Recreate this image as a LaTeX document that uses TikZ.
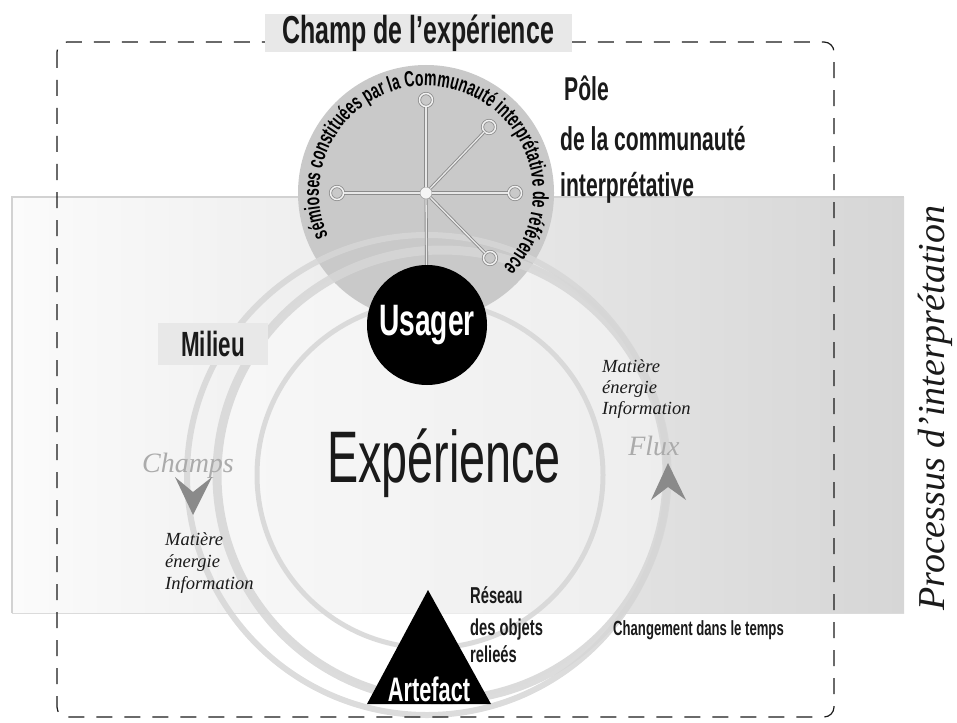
\documentclass[tikz,border=0pt]{standalone}
\usepackage{fontspec}
\newfontfamily\cnd[FakeStretch=0.64]{Liberation Sans}
\newfontfamily\ital{Liberation Serif}
\usetikzlibrary{decorations.text}
\definecolor{ringc}{HTML}{D6D6D6}
\definecolor{diskc}{HTML}{C9C9C9}
\definecolor{bandl}{HTML}{FBFBFB}
\definecolor{bandr}{HTML}{D6D6D6}
\definecolor{bandedge}{HTML}{D2D2D2}
\definecolor{labelbg}{HTML}{E8E8E8}
\definecolor{arrowc}{HTML}{8A8A8A}
\definecolor{softgray}{HTML}{ABABAB}
\definecolor{netc}{HTML}{8C8C8C}
\definecolor{inkc}{HTML}{1A1A1A}
\tikzset{
  ringline/.style={draw=ringc, opacity=0.85},
  netline/.style={draw=netc, line width=0.9pt, double=white!82!gray, double distance=1.3pt},
  smallring/.style={circle, draw=netc, line width=0.8pt, double=white!90!gray, double distance=1.5pt, fill=diskc, minimum size=13pt, inner sep=0pt},
  hubdot/.style={circle, draw=netc!80, line width=0.6pt, fill=white!92!gray, minimum size=12pt, inner sep=0pt},
  dashbox/.style={draw=inkc, line width=1.2pt, dash pattern=on 16pt off 12pt, rounded corners=10pt},
  condlbl/.style={anchor=base west, text=inkc, inner sep=0pt},
  italsmall/.style={anchor=base west, inner sep=0pt, text=inkc, font=\ital\itshape\fontsize{18.5}{18.5}\selectfont},
  italgray/.style={anchor=base, inner sep=0pt, text=softgray, font=\ital\itshape\fontsize{28}{28}\selectfont},
  chevron/.style={fill=arrowc}
}
\begin{document}
\begin{tikzpicture}[x=1pt,y=-1pt]
\useasboundingbox (0,0) rectangle (957,722);

% band
\shade[left color=bandl, right color=bandr] (12,197) rectangle (904,613);
\draw[bandedge, line width=1.6pt] (12,613) -- (12,197) -- (904,197);
\draw[bandedge!80, line width=1pt] (12,613) -- (904,613);

% whitish interior of circles
\fill[white, opacity=0.45] (442,475) circle[radius=225];

% top disk
\node[circle, fill=diskc, minimum size=256pt, inner sep=0pt] (disk) at (426,193) {};

% rings
\draw[ringline, line width=6pt] (427,475) circle[radius=240];
\draw[ringline, line width=9pt] (442,475) circle[radius=225];
\draw[ringline, line width=5pt] (430,475) circle[radius=173];

% network in disk
\node[hubdot] (hub) at (426,193) {};
\node[smallring] (n1) at (426,100) {};
\node[smallring] (n2) at (489,127) {};
\node[smallring] (n3) at (515,193) {};
\node[smallring] (n4) at (337,193) {};
\node[smallring] (n5) at (490,258) {};

% Usager
\node[circle, fill=black, minimum size=120pt, inner sep=0pt, text=white,
      font=\cnd\bfseries\fontsize{44}{44}\selectfont] (usager) at (427,325) {Usager};

\draw[netline] (hub) -- (n1);
\draw[netline] (hub) -- (n2);
\draw[netline] (hub) -- (n3);
\draw[netline] (hub) -- (n4);
\draw[netline] (hub) -- (n5);
\draw[netline] (hub) -- (usager);

% text around disk
\path[decorate, decoration={text along path, text align=center,
  text={|\cnd\bfseries\fontsize{22}{22}\selectfont|sémioses constituées par la Communauté interprétative de référence}}]
  (disk.center) ++(148:107) arc[start angle=148, end angle=412, radius=107];

% Artefact triangle
\fill[black] (428,590) -- (367,704) -- (491,704) -- cycle;
\node[anchor=base, inner sep=0pt, text=white, font=\cnd\bfseries\fontsize{34}{34}\selectfont] (artefact) at (429,701) {Artefact};

% dashed field
\draw[dashbox] (57,42) rectangle (834,717);
\node[fill=labelbg, minimum width=307pt, minimum height=38pt, inner sep=0pt,
      font=\cnd\bfseries\fontsize{39}{39}\selectfont, text=inkc] (champ) at (418,33) {Champ de l’expérience};

% Pole labels
\node[condlbl, font=\cnd\bfseries\fontsize{33}{33}\selectfont] (pole1) at (564,101) {Pôle};
\node[condlbl, font=\cnd\bfseries\fontsize{33}{33}\selectfont] (pole2) at (560,150) {de la communauté};
\node[condlbl, font=\cnd\bfseries\fontsize{33}{33}\selectfont] (pole3) at (560,196) {interprétative};

% Milieu
\node[fill=labelbg, minimum width=110pt, minimum height=42pt, inner sep=0pt,
      font=\cnd\bfseries\fontsize{35}{35}\selectfont, text=inkc] (milieu) at (213,344) {Milieu};

% Experience
\node[anchor=base, inner sep=0pt, text=inkc, font=\cnd\fontsize{73}{73}\selectfont] (exp) at (444,482) {Expérience};

% Champs / Flux
\node[italgray] (champs) at (188,472) {Champs};
\node[italgray] (flux) at (654,455) {Flux};
\fill[chevron] (175,477) -- (193,515) -- (212,477) -- (193,492) -- cycle;
\fill[chevron] (668,463) -- (651,500) -- (668,487) -- (686,500) -- cycle;

% Matiere energie information
\node[italsmall] (ml1) at (165,545) {Matière};
\node[italsmall] (ml2) at (165,567) {énergie};
\node[italsmall] (ml3) at (165,589) {Information};
\node[italsmall] (mr1) at (602,372) {Matière};
\node[italsmall] (mr2) at (602,393) {énergie};
\node[italsmall] (mr3) at (602,414) {Information};

% Reseau
\node[condlbl, font=\cnd\bfseries\fontsize{23}{23}\selectfont] (res1) at (470,603) {Réseau};
\node[condlbl, font=\cnd\bfseries\fontsize{23}{23}\selectfont] (res2) at (470,635) {des objets};
\node[condlbl, font=\cnd\bfseries\fontsize{23}{23}\selectfont] (res3) at (470,662) {relieés};

% Changement
\node[condlbl, font=\cnd\bfseries\fontsize{20.5}{20.5}\selectfont] (chg) at (613,635) {Changement dans le temps};

% Processus
\node[rotate=90, anchor=base, inner sep=0pt, text=inkc, font=\ital\itshape\fontsize{38}{38}\selectfont] (proc) at (944,408) {Processus d’interprétation};
\end{tikzpicture}
\end{document}
